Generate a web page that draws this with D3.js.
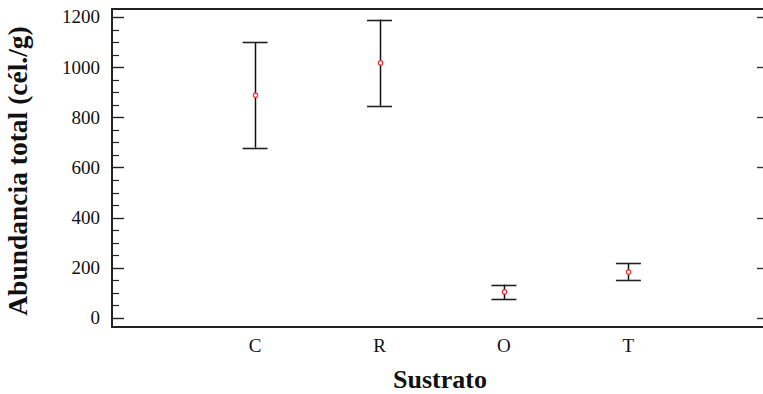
<!DOCTYPE html>
<html>
<head>
<meta charset="utf-8">
<script src="https://cdn.jsdelivr.net/npm/d3@7"></script>
<style>
  html, body { margin: 0; background: #fff; overflow: hidden; }
  svg { display: block; }
  text { font-family: "Liberation Serif", "Times New Roman", serif; fill: #111; }
</style>
</head>
<body>
<svg id="chart" width="763" height="394"></svg>
<script>
// data
var categories = ["C", "R", "O", "T"];
var means = [888, 1017, 104, 183];
var upper = [1100, 1190, 133, 219];
var lower = [679, 846, 75, 152];
var yTicks = [0, 200, 400, 600, 800, 1000, 1200];

var svg = d3.select("#chart");
var plotL = 112, plotR = 764, plotT = 9, plotB = 327;

var y = d3.scaleLinear().domain([-36, 1232]).range([plotB, plotT]);
// categories sit at index 1..4
var x = d3.scaleLinear().domain([-0.15, 5.09]).range([plotL, plotR]);

function snap(v) { return Math.round(v) + 0.5; }

var frame = svg.append("g");

// minor ticks on the left every 50
var minors = d3.range(0, 1201, 50).filter(function (v) { return v % 200 !== 0; });
frame.selectAll("line.minor")
    .data(minors)
    .enter().append("line")
    .attr("x1", plotL).attr("x2", plotL + 7)
    .attr("y1", function (d) { return snap(y(d)); })
    .attr("y2", function (d) { return snap(y(d)); })
    .attr("stroke", "#222").attr("stroke-width", 1.2);

// major ticks left + right
frame.selectAll("line.major")
    .data(yTicks)
    .enter().append("line")
    .attr("x1", plotL).attr("x2", plotL + 12)
    .attr("y1", function (d) { return snap(y(d)); })
    .attr("y2", function (d) { return snap(y(d)); })
    .attr("stroke", "#222").attr("stroke-width", 1.4);

// right side: only tick stubs reach the page edge
frame.selectAll("line.rmajor")
    .data(yTicks)
    .enter().append("line")
    .attr("x1", 757).attr("x2", 763)
    .attr("y1", function (d) { return snap(y(d)); })
    .attr("y2", function (d) { return snap(y(d)); })
    .attr("stroke", "#333").attr("stroke-width", 1.4);

frame.selectAll("text.ylab")
    .data(yTicks)
    .enter().append("text")
    .attr("x", plotL - 12)
    .attr("y", function (d) { return y(d); })
    .attr("dy", "0.34em")
    .attr("text-anchor", "end")
    .style("font-size", "19px")
    .text(function (d) { return d; });

// left, top, bottom spines
frame.append("path")
    .attr("d", "M763," + plotT + "H" + plotL + "V" + plotB + "H763")
    .attr("fill", "none")
    .attr("stroke", "#222").attr("stroke-width", 2);

// category labels
frame.selectAll("text.xlab")
    .data(categories)
    .enter().append("text")
    .attr("x", function (d, i) { return x(i + 1); })
    .attr("y", 352)
    .attr("text-anchor", "middle")
    .style("font-size", "19px")
    .text(function (d) { return d; });

// error bars
var bars = svg.append("g").selectAll("g")
    .data(categories)
    .enter().append("g");

bars.append("line")
    .attr("x1", function (d, i) { return snap(x(i + 1)); })
    .attr("x2", function (d, i) { return snap(x(i + 1)); })
    .attr("y1", function (d, i) { return y(upper[i]); })
    .attr("y2", function (d, i) { return y(lower[i]); })
    .attr("stroke", "#111").attr("stroke-width", 1.5);

[upper, lower].forEach(function (arr) {
    bars.append("line")
        .attr("x1", function (d, i) { return x(i + 1) - 12.5; })
        .attr("x2", function (d, i) { return x(i + 1) + 12.5; })
        .attr("y1", function (d, i) { return snap(y(arr[i])); })
        .attr("y2", function (d, i) { return snap(y(arr[i])); })
        .attr("stroke", "#222").attr("stroke-width", 1.6);
});

bars.append("circle")
    .attr("cx", function (d, i) { return snap(x(i + 1)); })
    .attr("cy", function (d, i) { return y(means[i]); })
    .attr("r", 2.2)
    .attr("fill", "#fff")
    .attr("stroke", "#e33").attr("stroke-width", 1.2);

// axis titles
svg.append("text")
    .attr("x", 440).attr("y", 388)
    .attr("text-anchor", "middle")
    .style("font-size", "26px").style("font-weight", "bold")
    .text("Sustrato");

svg.append("text")
    .attr("transform", "translate(27,171) rotate(-90)")
    .attr("text-anchor", "middle")
    .style("font-size", "27.5px").style("font-weight", "bold")
    .text("Abundancia total (cél./g)");
</script>
</body>
</html>
